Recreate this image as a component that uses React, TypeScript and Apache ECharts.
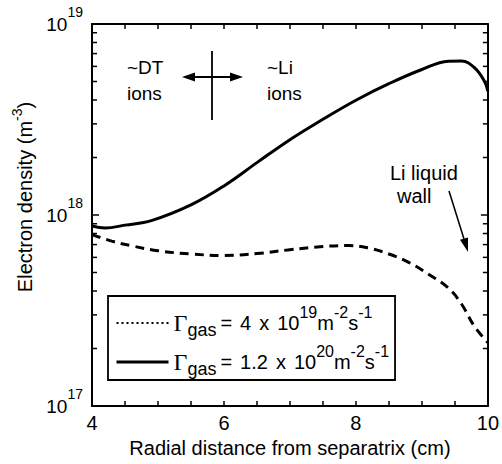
import React, { useEffect, useRef } from 'react';
import * as echarts from 'echarts';

// ---- data ----
const solidX = [4.0, 4.2, 4.5, 4.9, 5.5, 6.0, 6.5, 7.0, 7.5, 8.0, 8.5, 9.0, 9.4, 9.6, 9.8, 9.95, 10.0];
const solidN = [8.75e17, 8.55e17, 8.85e17, 9.35e17, 1.13e18, 1.42e18, 1.88e18, 2.48e18, 3.17e18, 3.99e18, 4.87e18, 5.78e18, 6.38e18, 6.4e18, 5.9e18, 5.0e18, 4.45e18];
const dashX = [4.0, 4.3, 4.6, 5.0, 5.5, 6.0, 6.5, 7.0, 7.5, 7.9, 8.2, 8.5, 8.8, 9.1, 9.4, 9.6, 9.8, 10.0];
const dashN = [7.9e17, 7.3e17, 6.9e17, 6.5e17, 6.25e17, 6.14e17, 6.28e17, 6.58e17, 6.84e17, 6.92e17, 6.7e17, 6.25e17, 5.65e17, 4.9e17, 4.15e17, 3.42e17, 2.6e17, 2.15e17];
const minorTickValues = [2e17, 3e17, 4e17, 5e17, 6e17, 7e17, 8e17, 9e17, 2e18, 3e18, 4e18, 5e18, 6e18, 7e18, 8e18, 9e18];
const xLabelValues = [4, 6, 8, 10];
const seriesNames = ['Γgas = 4 x 10^19 m^-2 s^-1', 'Γgas = 1.2 x 10^20 m^-2 s^-1'];
const legendRichText: Record<string, string> = {
  [seriesNames[0]]: '{g|Γ}{sub|gas}{t|=}{t|4}{t|x}{t10|10}{sup|19}{n|m}{sup|-2}{n|s}{sup|-1}',
  [seriesNames[1]]: '{g|Γ}{sub|gas}{t|=}{t|1.2}{t|x}{t10|10}{sup|20}{n|m}{sup|-2}{n|s}{sup|-1}',
};

const SANS = '"Liberation Sans", Arial, Helvetica, sans-serif';
const SERIF = '"Liberation Serif", "Times New Roman", serif';
const X_MIN = 4;
const X_MAX = 10;

function txt(text: string, x: number, y: number, size = 19) {
  return {
    type: 'text',
    x,
    y,
    silent: true,
    style: {
      text,
      fill: '#000',
      font: `${size}px ${SANS}`,
      textAlign: 'left',
      textVerticalAlign: 'middle',
      align: 'left',
      verticalAlign: 'middle',
    },
  };
}

export default function App() {
  const ref = useRef<HTMLDivElement>(null);
  useEffect(() => {
    if (!ref.current) return;
    const chart = echarts.init(ref.current, undefined, { renderer: 'svg' });
    const axisLine = { show: true, onZero: false, lineStyle: { color: '#000', width: 2 } };
    const option: any = {
      animation: false,
      backgroundColor: '#fff',
      color: ['#000', '#000', '#000'],
      grid: { left: 92, right: 14, top: 24, bottom: 58 },
      xAxis: [
        {
          type: 'value',
          min: X_MIN,
          max: X_MAX,
          interval: 0.5,
          position: 'bottom',
          axisLine,
          axisTick: { inside: true, length: 5, lineStyle: { color: '#000', width: 1.5 } },
          axisLabel: {
            formatter: (v: number) => (xLabelValues.includes(v) ? String(v) : ''),
            margin: 7,
            color: '#000',
            fontSize: 20,
            fontFamily: SANS,
          },
          splitLine: { show: false },
          name: 'Radial distance from separatrix (cm)',
          nameLocation: 'middle',
          nameGap: 27,
          nameTextStyle: { color: '#000', fontSize: 20, fontFamily: SANS },
        },
        {
          type: 'value',
          min: X_MIN,
          max: X_MAX,
          interval: 0.5,
          position: 'top',
          axisLine,
          axisTick: { inside: true, length: 5, lineStyle: { color: '#000', width: 1.5 } },
          axisLabel: { show: false },
          splitLine: { show: false },
        },
      ],
      yAxis: [
        {
          type: 'log',
          logBase: 10,
          min: 1e17,
          max: 1e19,
          position: 'left',
          axisLine,
          axisTick: { inside: true, length: 7, lineStyle: { color: '#000', width: 1.5 } },
          axisLabel: {
            formatter: (v: number) => `{b|10}{s|${Math.round(Math.log10(v))}}`,
            margin: 9,
            rich: {
              b: { fontSize: 19, lineHeight: 19, fontFamily: SANS, color: '#000', verticalAlign: 'middle' },
              s: { fontSize: 14, fontFamily: SANS, color: '#000', verticalAlign: 'top', padding: [0, 0, 24, 0] },
            },
          },
          splitLine: { show: false },
          name: 'Electron density (m{s|-3})',
          nameLocation: 'middle',
          nameRotate: 90,
          nameGap: 52,
          nameTextStyle: {
            color: '#000',
            fontSize: 20,
            fontFamily: SANS,
            padding: [0, 0, 0, 36],
            rich: {
              s: { fontSize: 14, fontFamily: SANS, color: '#000', verticalAlign: 'top', padding: [0, 0, 16, 0] },
            },
          },
        },
        {
          type: 'log',
          logBase: 10,
          min: 1e17,
          max: 1e19,
          position: 'right',
          axisLine,
          axisTick: { inside: true, length: 7, lineStyle: { color: '#000', width: 1.5 } },
          axisLabel: { show: false },
          splitLine: { show: false },
        },
      ],
      legend: {
        orient: 'vertical',
        left: 108,
        top: 296,
        padding: [8, 6, 2, 7],
        itemGap: 4,
        itemWidth: 52,
        itemHeight: 14,
        borderColor: '#000',
        borderWidth: 1.8,
        borderRadius: 0,
        backgroundColor: '#fff',
        selectedMode: false,
        itemStyle: { opacity: 0 },
        data: [
          { name: seriesNames[0], itemStyle: { opacity: 0 }, lineStyle: { type: [2, 3], width: 2, color: '#000' } },
          { name: seriesNames[1], itemStyle: { opacity: 0 }, lineStyle: { type: 'solid', width: 3, color: '#000' } },
        ],
        formatter: (name: string) => legendRichText[name],
        textStyle: {
          color: '#000',
          fontFamily: SANS,
          fontSize: 20,
          rich: {
            g: { fontFamily: SERIF, fontSize: 24, lineHeight: 24, color: '#000', verticalAlign: 'middle' },
            sub: { fontFamily: SANS, fontSize: 18, color: '#000', verticalAlign: 'bottom', padding: [0, 0, 3, 0] },
            t: { fontFamily: SANS, fontSize: 20, lineHeight: 20, color: '#000', verticalAlign: 'middle', padding: [0, 4, 0, 4] },
            t10: { fontFamily: SANS, fontSize: 20, lineHeight: 20, color: '#000', verticalAlign: 'middle', padding: [0, 0, 0, 4] },
            n: { fontFamily: SANS, fontSize: 20, lineHeight: 20, color: '#000', verticalAlign: 'middle' },
            sup: { fontFamily: SANS, fontSize: 16, color: '#000', verticalAlign: 'top', padding: [0, 0, 22, 0] },
          },
        },
      },
      series: [
        {
          type: 'line',
          name: seriesNames[0],
          data: dashX.map((x, i) => [x, dashN[i]]),
          symbol: 'none',
          smooth: 0.4,
          itemStyle: { color: '#000' },
          lineStyle: { color: '#000', width: 3, type: [9, 6] },
          z: 3,
        },
        {
          type: 'line',
          name: seriesNames[1],
          data: solidX.map((x, i) => [x, solidN[i]]),
          symbol: 'none',
          smooth: 0.4,
          itemStyle: { color: '#000' },
          lineStyle: { color: '#000', width: 3 },
          z: 3,
        },
        {
          type: 'custom',
          name: 'minor ticks',
          silent: true,
          clip: false,
          z: 5,
          data: minorTickValues.map((v) => [X_MIN, v]),
          encode: { x: 0, y: 1 },
          renderItem: (params: any, api: any) => {
            const v = api.value(1);
            const l = api.coord([X_MIN, v]);
            const r = api.coord([X_MAX, v]);
            return {
              type: 'group',
              children: [
                { type: 'line', shape: { x1: l[0], y1: l[1], x2: l[0] + 5, y2: l[1] }, style: { stroke: '#000', lineWidth: 1.5 } },
                { type: 'line', shape: { x1: r[0] - 5, y1: r[1], x2: r[0], y2: r[1] }, style: { stroke: '#000', lineWidth: 1.5 } },
              ],
            };
          },
        },
      ],
      graphic: [
        txt('~DT', 127, 67),
        txt('ions', 127, 93),
        txt('~Li', 267, 67),
        txt('ions', 267, 93),
        txt('Li liquid', 390, 173, 20),
        txt('wall', 397, 196, 20),
        { type: 'line', silent: true, shape: { x1: 190, y1: 77, x2: 235, y2: 77 }, style: { stroke: '#000', lineWidth: 2 } },
        { type: 'polygon', silent: true, shape: { points: [[182, 77], [195, 72.5], [195, 81.5]] }, style: { fill: '#000' } },
        { type: 'polygon', silent: true, shape: { points: [[243, 77], [230, 72.5], [230, 81.5]] }, style: { fill: '#000' } },
        { type: 'line', silent: true, shape: { x1: 212, y1: 51, x2: 212, y2: 120 }, style: { stroke: '#000', lineWidth: 1.8 } },
        { type: 'line', silent: true, shape: { x1: 449, y1: 191, x2: 464, y2: 239 }, style: { stroke: '#000', lineWidth: 1.5 } },
        { type: 'polygon', silent: true, shape: { points: [[468, 252], [468, 237.5], [460, 239.8]] }, style: { fill: '#000' } },
      ],
    };
    chart.setOption(option);
    return () => chart.dispose();
  }, []);
  return (
    <div
      ref={ref}
      style={{ position: 'fixed', left: 0, top: 0, width: 502, height: 464, background: '#fff' }}
    />
  );
}
